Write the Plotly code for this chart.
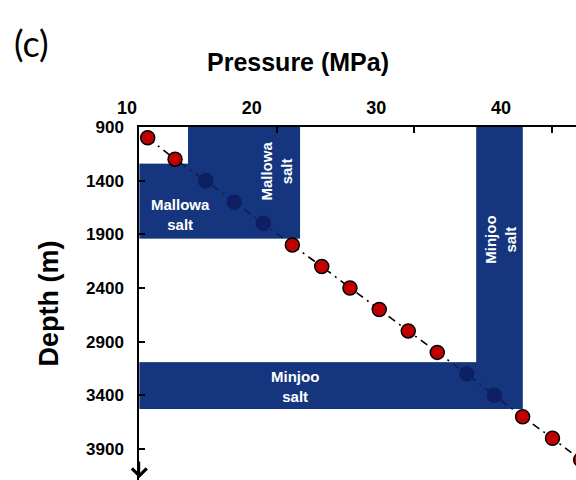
import plotly.graph_objects as go

# ---------------- data ----------------
depth_m = [1000, 1200, 1400, 1600, 1800, 2000, 2200, 2400,
           2600, 2800, 3000, 3200, 3400, 3600, 3800, 4000]
pressure_mpa = [10.61, 12.60, 14.83, 16.91, 19.02, 21.13, 23.27, 25.32,
                27.45, 29.56, 31.67, 33.81, 35.82, 37.88, 40.05, 42.10]

salt_names = ["Mallowa salt", "Mallowa salt", "Minjoo salt", "Minjoo salt"]
salt_p_min = [10.0, 13.54, 10.0, 34.51]
salt_p_max = [21.69, 21.69, 37.88, 37.88]
salt_d_top = [1242, 900, 3093, 900]
salt_d_bot = [1938, 1938, 3527, 3527]

y_tick_vals = [900, 1400, 1900, 2400, 2900, 3400, 3900]
x_tick_vals = [10, 20, 30, 40]
x_tick_text = ["10", "20", "30", "40"]
x_tick_marks = [20, 30, 40]

# ---------------- styling ----------------
SALT = "#15367F"
NAVY = "#0F1F63"
RED = "#C00000"
FONT = "Liberation Sans, Arial, sans-serif"
TICKC = "black"

W, H = 576, 480
L, T = 100, 127
axis_left_px = 139.3
px_per_mpa = 13.75
x_min = 10.0
x_max = x_min + (W - axis_left_px) / px_per_mpa
y_top = 900
y_bot = 900 + (H - T) / 0.10733

poly_x, poly_y = [], []
for p0, p1, d0, d1 in zip(salt_p_min, salt_p_max, salt_d_top, salt_d_bot):
    poly_x += [p0, p1, p1, p0, p0, None]
    poly_y += [d0, d0, d1, d1, d0, None]


def in_salt(p, d):
    return any(p0 <= p <= p1 and d0 <= d <= d1
               for p0, p1, d0, d1 in zip(salt_p_min, salt_p_max, salt_d_top, salt_d_bot))


mk_fill = [NAVY if in_salt(p, d) else RED for p, d in zip(pressure_mpa, depth_m)]
mk_line = [NAVY if in_salt(p, d) else "black" for p, d in zip(pressure_mpa, depth_m)]

fig = go.Figure()
fig.add_trace(go.Scatter(x=poly_x, y=poly_y, mode="lines", fill="toself",
                         fillcolor=SALT, line=dict(width=0, color=SALT),
                         hoverinfo="skip", showlegend=False))
fig.add_trace(go.Scatter(x=pressure_mpa, y=depth_m, mode="lines",
                         line=dict(color="black", width=1.6, dash="8px,5px,2px,5px"),
                         hoverinfo="skip", showlegend=False))
fig.add_trace(go.Scatter(x=poly_x, y=poly_y, mode="lines", fill="toself",
                         fillcolor="rgba(21,54,127,0.6)", line=dict(width=0, color=SALT),
                         hoverinfo="skip", showlegend=False))
fig.add_trace(go.Scatter(x=pressure_mpa, y=depth_m, mode="markers",
                         marker=dict(size=14, color=mk_fill,
                                     line=dict(color=mk_line, width=1.5)),
                         showlegend=False))
# empty trace that registers the top tick-label axis
fig.add_trace(go.Scatter(x=[], y=[], xaxis="x2", yaxis="y", mode="markers",
                         hoverinfo="skip", showlegend=False))

labels = [
    ("Mallowa<br>salt", 12.96, 1717, 0),
    ("Mallowa<br>salt", 20.01, 1307, -90),
    ("Minjoo<br>salt", 36.31, 1950, -90),
    ("Minjoo<br>salt", 21.32, 3319, 0),
]
for txt, xx, yy, ang in labels:
    fig.add_annotation(x=xx, y=yy, xref="x", yref="y", text=txt, showarrow=False,
                       textangle=ang, font=dict(family=FONT, size=15, color="white",
                                                weight="bold"))

# arrow at the bottom of the depth axis
fig.add_annotation(x=x_min, y=y_bot - 18, xref="x", yref="y", text="", showarrow=True,
                   ax=0, ay=-18, arrowhead=4, arrowsize=1.6, arrowwidth=1.8,
                   arrowcolor="black")

pw = W - L
ph = H - T


def paper_x(px):
    return (px - L) / pw


def paper_y(py):
    return 1 - (py - T) / ph


fig.add_annotation(x=paper_x(297.5), y=paper_y(62), xref="paper", yref="paper",
                   xanchor="center", yanchor="middle",
                   text="Pressure (MPa)", showarrow=False,
                   font=dict(family=FONT, size=25, color="black", weight="bold"))
fig.add_annotation(x=paper_x(31), y=paper_y(43), xref="paper", yref="paper",
                   xanchor="center", yanchor="middle",
                   text="(c)", showarrow=False,
                   font=dict(family="Lato, Open Sans, sans-serif", size=36, color="black"))

lab_px_per = (501 - 127) / 30.0
x2_min = 10 - (127 - L) / lab_px_per
x2_max = 10 + (W - 127) / lab_px_per

fig.update_layout(
    template="none",
    width=W, height=H,
    margin=dict(l=L, r=0, t=T, b=0, pad=0),
    paper_bgcolor="white", plot_bgcolor="rgba(0,0,0,0)",
    showlegend=False,
    xaxis=dict(domain=[(axis_left_px - L) / pw, 1], range=[x_min, x_max], side="top",
               showline=True, linecolor="black", linewidth=2, mirror=False,
               ticks="inside", ticklen=6, tickwidth=2, tickcolor=TICKC,
               tickvals=x_tick_marks, showticklabels=False, showgrid=False,
               zeroline=False, automargin=False),
    xaxis2=dict(domain=[0, 1], range=[x2_min, x2_max], side="top", anchor="y",
                showline=False, ticks="", tickvals=x_tick_vals, ticktext=x_tick_text,
                tickfont=dict(family=FONT, size=18, color="black", weight="bold"),
                ticklabelstandoff=8, showgrid=False, zeroline=False, automargin=False),
    yaxis=dict(range=[y_bot, y_top], anchor="x", showline=True, linecolor="black",
               linewidth=2, ticks="inside", ticklen=6, tickwidth=2, tickcolor=TICKC,
               tickvals=y_tick_vals, tickfont=dict(family=FONT, size=17, color="black",
                                                   weight="bold"),
               ticklabelstandoff=10, showgrid=False, zeroline=False, automargin=False,
               title=dict(text="Depth (m)", standoff=20,
                          font=dict(family=FONT, size=27, color="black", weight="bold"))),
)

fig.write_html("out.html", config={"displayModeBar": False},
               post_script="document.body.style.margin='0px';")
